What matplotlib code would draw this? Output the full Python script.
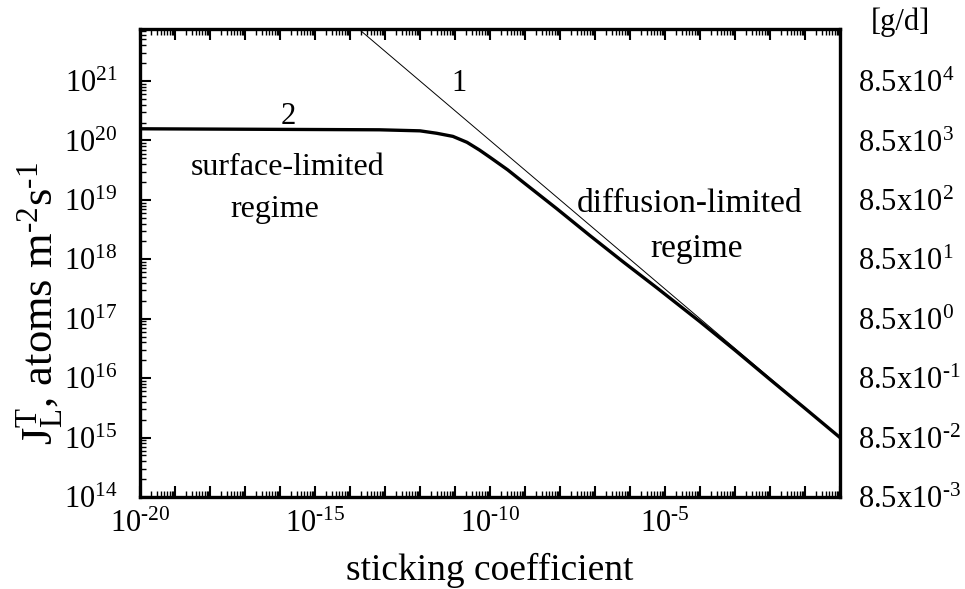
import matplotlib
matplotlib.use("Agg")
import matplotlib.pyplot as plt
from matplotlib.ticker import FixedLocator, NullFormatter, FuncFormatter
import numpy as np

plt.rcParams['font.family'] = ['Liberation Serif', 'DejaVu Serif']
plt.rcParams['mathtext.fontset'] = 'custom'
plt.rcParams['mathtext.rm'] = 'Liberation Serif'
plt.rcParams['mathtext.it'] = 'Liberation Serif:italic'

# curve 1: pure diffusion limit (straight line on log-log)
s_diff = [1e-14, 1.0]
J_diff = [1e22, 1e15]

# curve 2: full flux vs sticking coefficient
s_full = [1e-20, 7e-14, 1e-12, 3e-12, 8.7e-12, 2.2e-11, 5e-11, 1e-10, 3.2e-10,
          8.7e-10, 8.1e-9, 7.2e-8, 6.3e-7, 5.9e-6, 1e-4, 1e-3, 1e-2, 1e-1, 1.0]
J_full = [1.57e20, 1.51e20, 1.45e20, 1.32e20, 1.17e20, 9.3e19, 6.9e19, 5.2e19, 3.2e19,
          2.0e19, 7.1e18, 2.5e18, 9.1e17, 3.3e17, 8.9e16, 2.95e16, 9.5e15, 3.1e15, 1.0e15]

x_lim = (1e-20, 1.0)
y_lim = (1e14, 7.5e21)
x_labelled = [-20, -15, -10, -5]
y_decades = list(range(14, 22))
gd_factor = 8.5e-17   # atoms m^-2 s^-1 -> g/d
gd_exponents = list(range(-3, 5))

HY = '\u2010'  # short hyphen for negative exponents


def sup(n):
    return (HY + str(-n)) if n < 0 else str(n)


fig = plt.figure(figsize=(9.65, 5.89), dpi=100)
ax = fig.add_axes([140/965, 92/589, 700/965, 468/589])

ax.plot(s_diff, J_diff, color='black', lw=0.7)
ax.plot(s_full, J_full, color='black', lw=2.4, solid_joinstyle='round')

ax.set_xscale('log')
ax.set_yscale('log')
ax.set_xlim(*x_lim)
ax.set_ylim(*y_lim)

ax.xaxis.set_major_locator(FixedLocator([10.0**k for k in range(-20, 1)]))
ax.xaxis.set_minor_locator(FixedLocator([m * 10.0**k for k in range(-20, 0) for m in range(2, 10)]))
ax.xaxis.set_major_formatter(FuncFormatter(
    lambda v, p: r'10$^{%s}$' % sup(round(np.log10(v))) if round(np.log10(v)) in x_labelled else ''))
ax.xaxis.set_minor_formatter(NullFormatter())

ax.yaxis.set_major_locator(FixedLocator([10.0**k for k in y_decades]))
ax.yaxis.set_minor_locator(FixedLocator([m * 10.0**k for k in range(14, 22) for m in range(2, 10)]))
ax.yaxis.set_major_formatter(FuncFormatter(lambda v, p: r'10$^{%s}$' % sup(round(np.log10(v)))))
ax.yaxis.set_minor_formatter(NullFormatter())

ax.tick_params(which='both', direction='in', top=True, right=True, labelsize=22)
ax.tick_params(which='major', length=8, width=1.5)
ax.tick_params(which='minor', length=4, width=1.0)
ax.tick_params(axis='y', pad=16)
ax.tick_params(axis='x', pad=9)
for sp in ax.spines.values():
    sp.set_linewidth(2.4)

# right-hand scale in grams per day
ax2 = ax.twinx()
ax2.set_yscale('log')
ax2.set_ylim(y_lim[0] * gd_factor, y_lim[1] * gd_factor)
ax2.yaxis.set_major_locator(FixedLocator([8.5 * 10.0**n for n in gd_exponents]))
ax2.yaxis.set_minor_locator(FixedLocator([]))
ax2.yaxis.set_major_formatter(FuncFormatter(
    lambda v, p: r'8.5x10$^{%s}$' % sup(round(np.log10(v / 8.5)))))
ax2.tick_params(axis='y', length=0, labelsize=22, pad=13)
for sp in ax2.spines.values():
    sp.set_visible(False)

ax.set_xlabel('sticking coefficient', fontsize=27, labelpad=10)
fig.text(40/965, 1 - 303/589,
         r'J$_\mathrm{L}^\mathrm{T}$, atoms m$^{%s2}$s$^{%s1}$' % (HY, HY),
         fontsize=32, rotation=90, ha='center', va='center')

fig.text(900/965, 1 - 22/589, '[g/d]', fontsize=22, ha='center', va='center')


def px(x, y):
    # pixel position inside the frame -> data coordinates
    return 10**(-20 + (x - 140) / 35), 10**(14 + (497 - y) / 59.4)


ax.text(*px(459, 84), '1', fontsize=22, ha='center', va='center')
ax.text(*px(288, 117), '2', fontsize=22, ha='center', va='center')
ax.text(*px(191, 175), 'surface-limited', fontsize=23, ha='left', va='baseline')
ax.text(*px(230, 217), 'regime', fontsize=23, ha='left', va='baseline')
ax.text(*px(690, 212), 'diffusion-limited', fontsize=24, ha='center', va='baseline')
ax.text(*px(697, 257), 'regime', fontsize=24, ha='center', va='baseline')

fig.savefig('out.png', dpi=100)
